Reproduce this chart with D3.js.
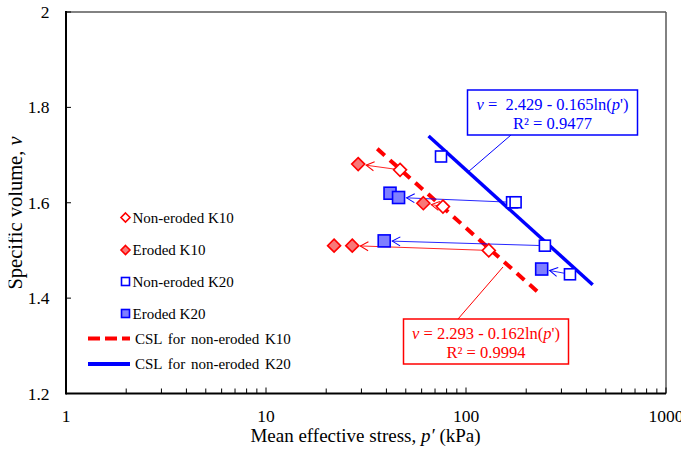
<!DOCTYPE html>
<html>
<head>
<meta charset="utf-8">
<script src="https://cdn.jsdelivr.net/npm/d3@7"></script>
<style>
  html, body { margin: 0; padding: 0; background: #fff; }
  svg { display: block; }
</style>
</head>
<body>
<div id="chart"></div>
<script>
// values: [p' (kPa), specific volume v]
const nonErodedK10 = [[46.8, 1.669], [76.7, 1.592], [130, 1.500]];
const erodedK10 = [[28.9, 1.681], [61.2, 1.599], [21.9, 1.510], [27.0, 1.510]];
const nonErodedK20 = [[75, 1.697], [170, 1.601], [177, 1.601], [248, 1.510], [331, 1.450]];
const erodedK20 = [[41.7, 1.620], [46, 1.611], [39, 1.520], [239, 1.461]];

// arrows: index in non-eroded -> index in eroded
const arrowsK10 = [[0, 0], [1, 1], [2, 3]];
const arrowsK20 = [[1, 1], [3, 2], [4, 3]];

// critical state lines (end points)
const cslK10 = [[36, 1.713], [230, 1.412]];
const cslK20 = [[65, 1.740], [430, 1.428]];

const yTicks = [1.2, 1.4, 1.6, 1.8, 2];
const xTicks = [1, 10, 100, 1000];

const legendItems = [
  { label: "Non-eroded K10", type: "diamond", fill: "#fff", stroke: "#ff0000" },
  { label: "Eroded K10", type: "diamond", fill: "#f87878", stroke: "#ff0000" },
  { label: "Non-eroded K20", type: "square", fill: "#fff", stroke: "#0000ff" },
  { label: "Eroded K20", type: "square", fill: "#7f7fff", stroke: "#0000ff" },
  { label: "CSL for non-eroded K10", type: "dash", stroke: "#ff0000" },
  { label: "CSL for non-eroded K20", type: "line", stroke: "#0000ff" }
];

const width = 681, height = 457;
const RED = "#ff0000", BLUE = "#0000ff";
const FONT = "'Liberation Serif', 'Times New Roman', Times, 'DejaVu Serif', serif";

const svg = d3.select("#chart").append("svg")
  .attr("width", width)
  .attr("height", height)
  .attr("font-family", FONT)
  .style("font-family", FONT);

const x = d3.scaleLog().domain([1, 1000]).range([66, 666]);
const y = d3.scaleLinear().domain([1.2, 2]).range([393.5, 12]);

// frame
svg.append("line").attr("x1", 66).attr("x2", 666).attr("y1", 12).attr("y2", 12)
  .attr("stroke", "#595959").attr("stroke-width", 1.5);
svg.append("line").attr("x1", 666).attr("x2", 666).attr("y1", 12).attr("y2", 393.5)
  .attr("stroke", "#595959").attr("stroke-width", 1.5);

// axes
const xMinor = [];
for (let d = 1; d < 1000; d *= 10) for (let k = 2; k <= 9; k++) xMinor.push(d * k);

const gx = svg.append("g").attr("transform", "translate(0,393.5)");
gx.selectAll(".minor").data(xMinor).enter().append("line")
  .attr("x1", d => x(d)).attr("x2", d => x(d)).attr("y1", 0).attr("y2", -5)
  .attr("stroke", "#000").attr("stroke-width", 1);
gx.selectAll(".major").data(xTicks).enter().append("line")
  .attr("x1", d => x(d)).attr("x2", d => x(d)).attr("y1", 0).attr("y2", -6)
  .attr("stroke", "#000").attr("stroke-width", 1);
gx.selectAll("text").data(xTicks).enter().append("text")
  .attr("x", d => x(d)).attr("y", 28.5)
  .attr("text-anchor", "middle").attr("font-size", 17.5)
  .text(d => d);

const gy = svg.append("g").attr("transform", "translate(66,0)");
gy.selectAll("line").data(yTicks).enter().append("line")
  .attr("x1", 0).attr("x2", 5).attr("y1", d => y(d)).attr("y2", d => y(d))
  .attr("stroke", "#000").attr("stroke-width", 1);
gy.selectAll("text").data(yTicks).enter().append("text")
  .attr("x", -16.5).attr("y", d => y(d) + 6)
  .attr("text-anchor", "end").attr("font-size", 17.5)
  .text(d => d3.format("")(d));

svg.append("line").attr("x1", 66).attr("x2", 666).attr("y1", 393.5).attr("y2", 393.5)
  .attr("stroke", "#000").attr("stroke-width", 2);
svg.append("line").attr("x1", 66).attr("x2", 66).attr("y1", 11).attr("y2", 394.5)
  .attr("stroke", "#000").attr("stroke-width", 2);

// axis titles
const xt = svg.append("text").attr("x", 365.5).attr("y", 442)
  .attr("text-anchor", "middle").attr("font-size", 19);
xt.append("tspan").text("Mean effective stress, ");
xt.append("tspan").attr("font-style", "italic").text("p\u2032");
xt.append("tspan").text(" (kPa)");

svg.append("clipPath").attr("id", "ylabclip").append("rect")
  .attr("x", 8.5).attr("y", 0).attr("width", 40).attr("height", height);
const yt = svg.append("g").attr("clip-path", "url(#ylabclip)")
  .append("text")
  .attr("transform", "translate(21.5,213) rotate(-90)")
  .attr("text-anchor", "middle").attr("font-size", 20.5);
yt.append("tspan").text("Specific volume, ");
yt.append("tspan").attr("font-style", "italic").text("v");

// CSL lines
const line = d3.line().x(d => x(d[0])).y(d => y(d[1]));
svg.append("path").datum(cslK10).attr("d", line)
  .attr("fill", "none").attr("stroke", RED).attr("stroke-width", 4)
  .attr("stroke-dasharray", "10,7");
svg.append("path").datum(cslK20).attr("d", line)
  .attr("fill", "none").attr("stroke", BLUE).attr("stroke-width", 3.5);

// arrow markers
const defs = svg.append("defs");
[["arrRed", RED], ["arrBlue", BLUE]].forEach(([id, c]) => {
  defs.append("marker").attr("id", id)
    .attr("markerUnits", "userSpaceOnUse")
    .attr("viewBox", "-10 -6 12 12")
    .attr("markerWidth", 12).attr("markerHeight", 12)
    .attr("refX", 0).attr("refY", 0)
    .attr("orient", "auto")
    .append("path").attr("d", "M-8,-4.5L0,0L-8,4.5")
    .attr("fill", "none").attr("stroke", c).attr("stroke-width", 1);
});

function drawArrows(pairs, from, to, color, marker) {
  svg.append("g").selectAll("line").data(pairs).enter().append("line")
    .each(function([i, j]) {
      const x1 = x(from[i][0]), y1 = y(from[i][1]);
      const x2 = x(to[j][0]), y2 = y(to[j][1]);
      const len = Math.hypot(x2 - x1, y2 - y1);
      const ux = (x2 - x1) / len, uy = (y2 - y1) / len;
      d3.select(this)
        .attr("x1", x1 + ux * 6).attr("y1", y1 + uy * 6)
        .attr("x2", x2 - ux * 8).attr("y2", y2 - uy * 8);
    })
    .attr("stroke", color).attr("stroke-width", 1).attr("stroke-opacity", 0.85)
    .attr("marker-end", `url(#${marker})`);
}
drawArrows(arrowsK10, nonErodedK10, erodedK10, RED, "arrRed");
drawArrows(arrowsK20, nonErodedK20, erodedK20, BLUE, "arrBlue");

// markers
function diamonds(data, fill, r) {
  svg.append("g").selectAll("path").data(data).enter().append("path")
    .attr("d", `M0,${-r}L${r},0L0,${r}L${-r},0Z`)
    .attr("transform", d => `translate(${x(d[0])},${y(d[1])})`)
    .attr("fill", fill).attr("stroke", RED).attr("stroke-width", 1.6);
}
function squares(data, fill, s) {
  svg.append("g").selectAll("rect").data(data).enter().append("rect")
    .attr("x", d => x(d[0]) - s / 2).attr("y", d => y(d[1]) - s / 2)
    .attr("width", s).attr("height", s)
    .attr("fill", fill).attr("stroke", BLUE).attr("stroke-width", 1.6);
}
squares(erodedK20, "#7f7fff", 12);
squares(nonErodedK20, "#fff", 11);
diamonds(erodedK10, "#f87878", 6.5);
diamonds(nonErodedK10, "#fff", 6.5);

// legend
const legY = [217.5, 250, 281.5, 313.5, 338.5, 364];
const leg = svg.append("g");
legendItems.forEach((it, i) => {
  const cy = legY[i];
  if (it.type === "diamond") {
    leg.append("path").attr("d", "M0,-4.5L4.5,0L0,4.5L-4.5,0Z")
      .attr("transform", `translate(125.5,${cy})`)
      .attr("fill", it.fill).attr("stroke", it.stroke).attr("stroke-width", 1.6);
  } else if (it.type === "square") {
    leg.append("rect").attr("x", 121.5).attr("y", cy - 4).attr("width", 8).attr("height", 8)
      .attr("fill", it.fill).attr("stroke", it.stroke).attr("stroke-width", 1.6);
  } else {
    leg.append("line").attr("x1", 88).attr("x2", 130).attr("y1", cy).attr("y2", cy)
      .attr("stroke", it.stroke).attr("stroke-width", 4)
      .attr("stroke-dasharray", it.type === "dash" ? "12,5" : null);
  }
  leg.append("text").attr("x", it.type === "dash" || it.type === "line" ? 135 : 132.5)
    .attr("y", cy + 5).attr("font-size", 15)
    .attr("word-spacing", it.type === "dash" || it.type === "line" ? 2 : 0)
    .text(it.label);
});

// equation boxes
function eqBox(bx, by, bw, bh, color, intercept, slope, r2, conn) {
  svg.append("line").attr("x1", conn[0]).attr("y1", conn[1]).attr("x2", conn[2]).attr("y2", conn[3])
    .attr("stroke", color).attr("stroke-width", 1);
  svg.append("rect").attr("x", bx).attr("y", by).attr("width", bw).attr("height", bh)
    .attr("fill", "#fff").attr("stroke", color).attr("stroke-width", 1.5);
  const cx = bx + bw / 2;
  const t1 = svg.append("text").attr("x", cx).attr("y", by + 20)
    .attr("text-anchor", "middle").attr("font-size", 16.5).attr("fill", color);
  t1.append("tspan").attr("font-style", "italic").text("v");
  t1.append("tspan").text(` = ${intercept} - ${slope}ln(`);
  t1.append("tspan").attr("font-style", "italic").text("p");
  t1.append("tspan").text("')");
  svg.append("text").attr("x", cx).attr("y", by + 38.5)
    .attr("text-anchor", "middle").attr("font-size", 16.5).attr("fill", color)
    .text(`R² = ${r2}`);
}
eqBox(467.5, 90, 170, 45, BLUE, "\u00a02.429", "0.165", "0.9477", [511, 135, 468, 172]);
eqBox(403.5, 319, 165, 45, RED, "2.293", "0.162", "0.9994", [458, 319, 503, 267]);
</script>
</body>
</html>
